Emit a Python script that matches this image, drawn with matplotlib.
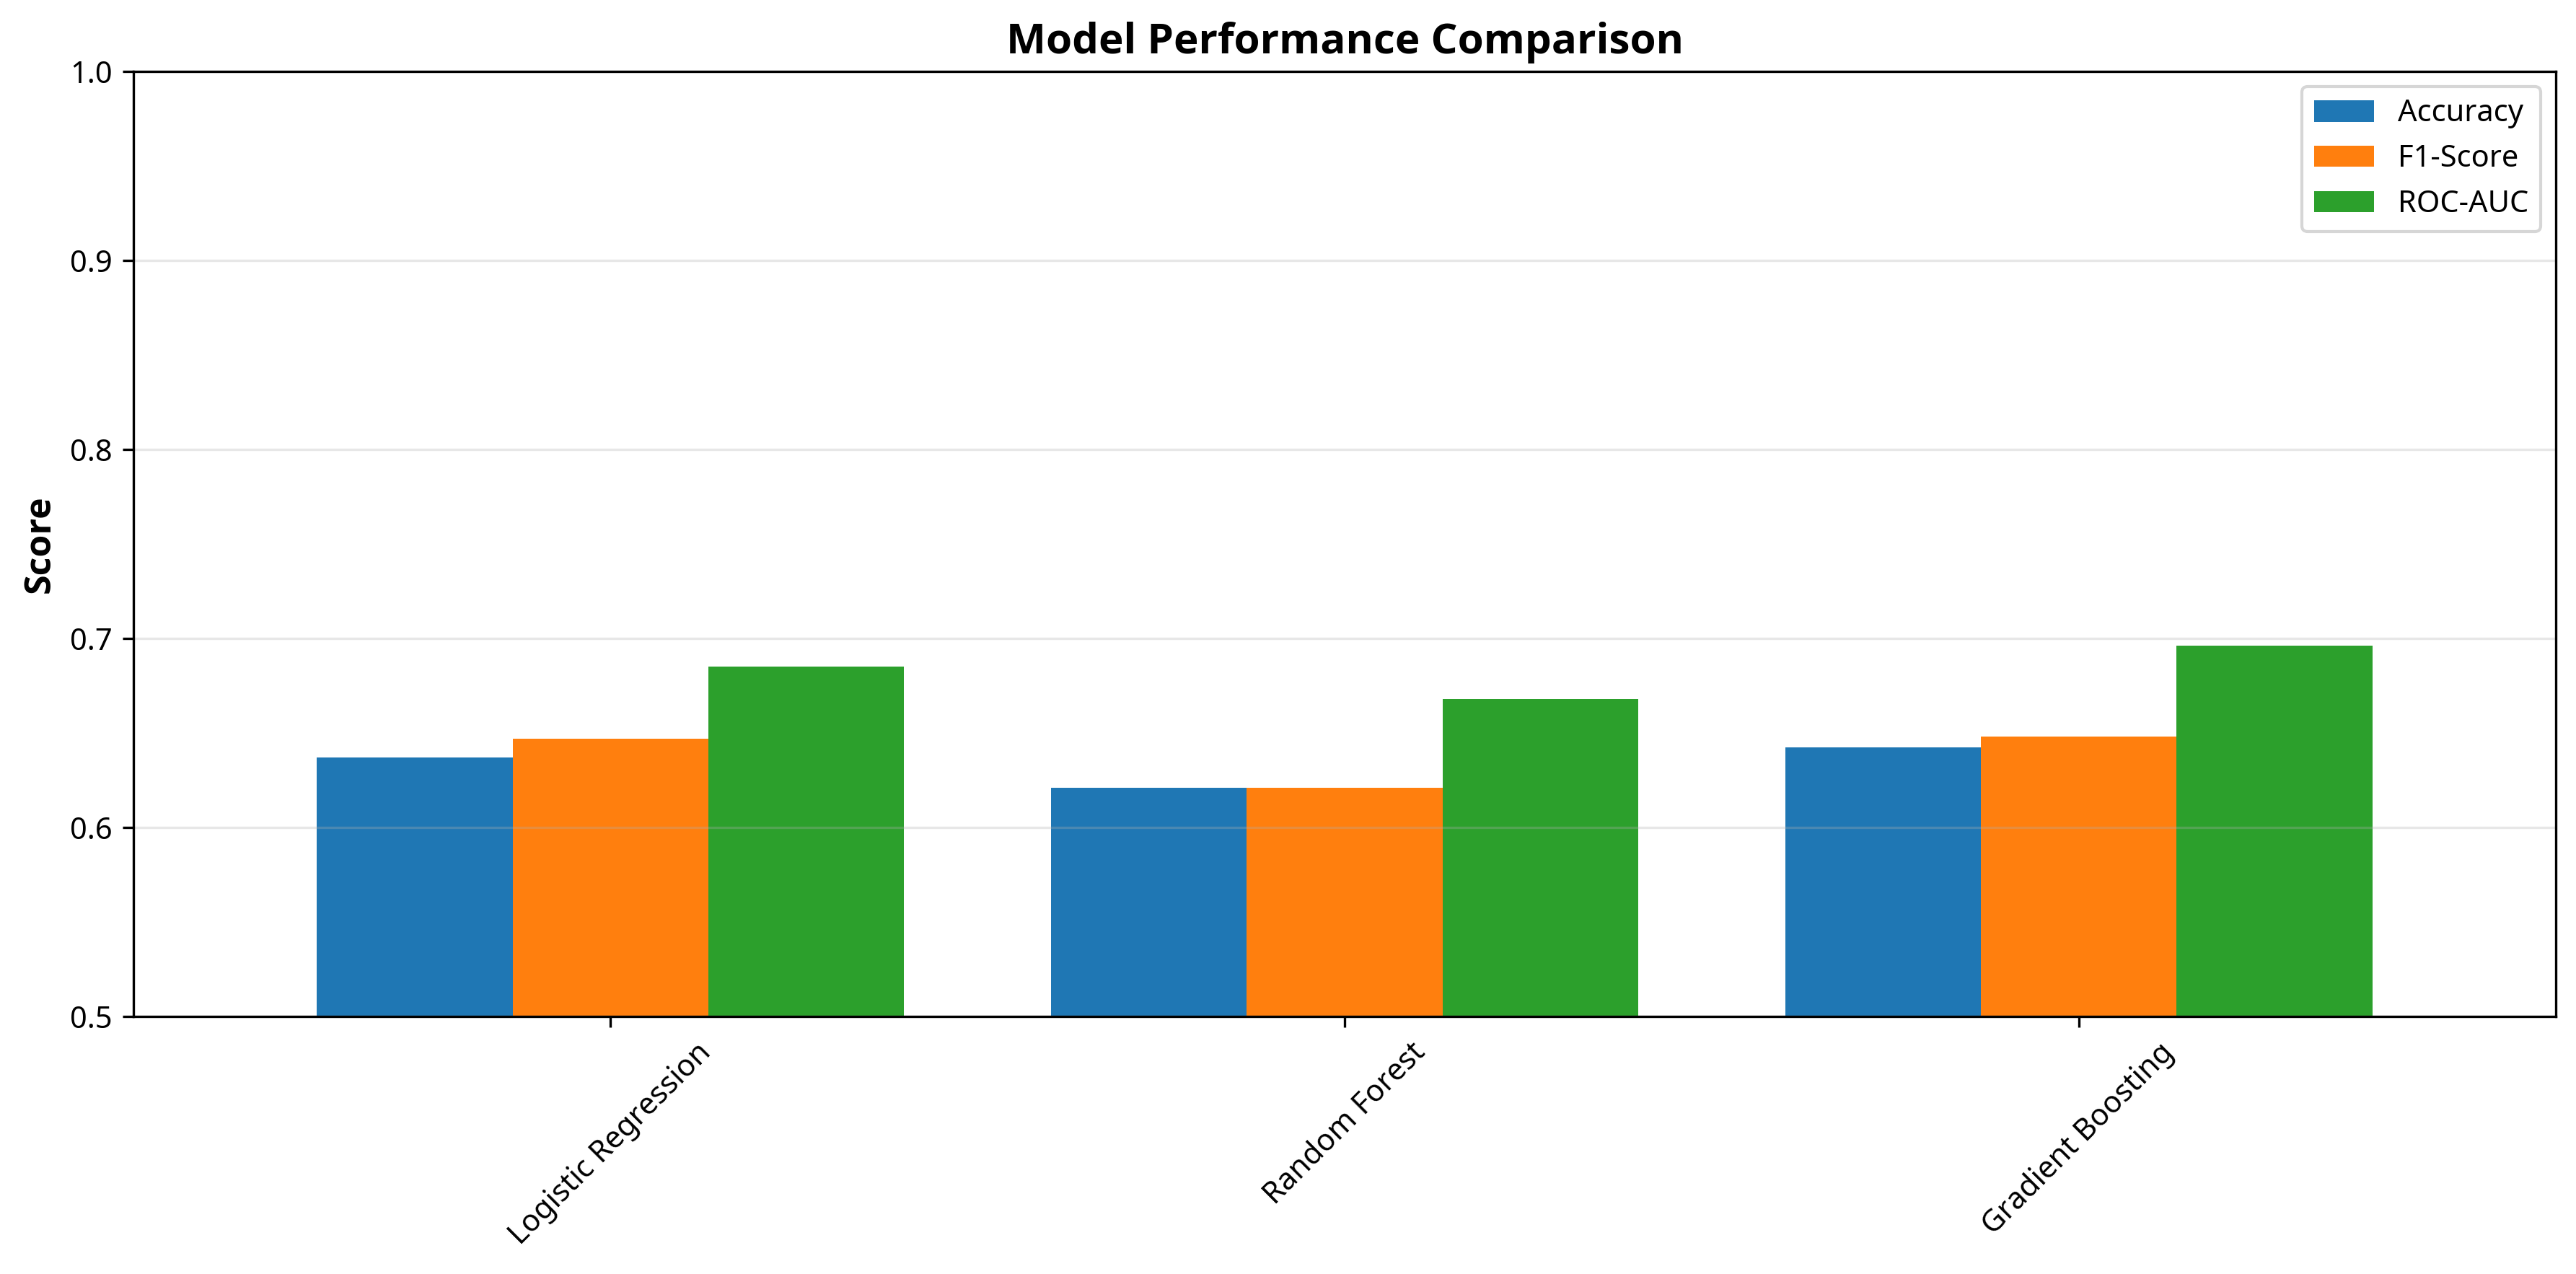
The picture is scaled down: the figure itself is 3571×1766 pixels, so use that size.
import numpy as np
import matplotlib
matplotlib.use("Agg")
import matplotlib.pyplot as plt

plt.rcParams['font.family'] = ['Noto Sans', 'DejaVu Sans']

models = ["Logistic Regression", "Random Forest", "Gradient Boosting"]
metrics = ["Accuracy", "F1-Score", "ROC-AUC"]
accuracy = [0.637, 0.621, 0.6425]
f1_score = [0.647, 0.621, 0.648]
roc_auc = [0.685, 0.668, 0.696]
series = [accuracy, f1_score, roc_auc]
colors = ["#1f77b4", "#ff7f0e", "#2ca02c"]

fig = plt.figure(figsize=(3571 / 300, 1766 / 300), dpi=300)
ax = fig.add_axes([185 / 3571, 1 - 1409 / 1766, (3543 - 185) / 3571, (1409 - 99) / 1766])

x = np.arange(len(models))
width = 0.8 / 3
for i, (name, vals) in enumerate(zip(metrics, series)):
    ax.bar(x + (i - 1) * width, vals, width, label=name, color=colors[i])

ax.set_xlim(-0.65, 2.65)
ax.set_ylim(0.5, 1.0)
ax.set_xticks(x)
ax.set_xticklabels(models, rotation=45, fontsize=10)
ax.tick_params(axis='y', labelsize=10)
bold_font = ['Open Sans', 'Noto Sans', 'DejaVu Sans']
ax.set_ylabel("Score", fontsize=12, fontweight='bold', family=bold_font)
ax.set_title("Model Performance Comparison", fontsize=14, fontweight='bold', family=bold_font)
ax.legend(loc='upper right', fontsize=10)
ax.grid(axis='y', alpha=0.3)

fig.savefig("out.png", dpi=300)
